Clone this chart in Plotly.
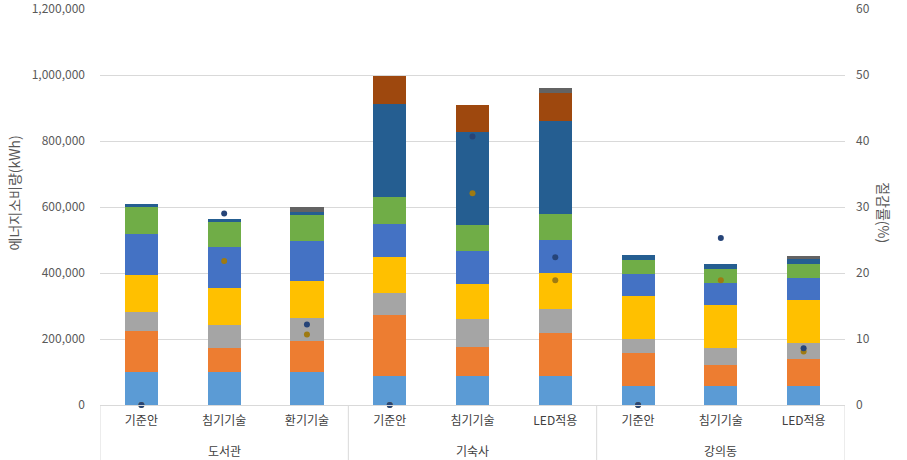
import plotly.graph_objects as go

groups = ["도서관", "기숙사", "강의동"]
cases = ["기준안", "침기기술", "환기기술", "기준안", "침기기술", "LED적용", "기준안", "침기기술", "LED적용"]
pos = list(range(len(cases)))

s1 = [100000, 100000, 100000, 89000, 89000, 89000, 58000, 58000, 58000]
s2 = [125000, 73000, 93000, 184000, 88000, 130000, 99000, 63000, 82000]
s3 = [57000, 69000, 71000, 67000, 84000, 72000, 42000, 52000, 47000]
s4 = [112000, 113000, 112000, 109000, 106000, 109000, 130000, 129000, 130000]
s5 = [125000, 123000, 121000, 100000, 100000, 100000, 68000, 67000, 67000]
s6 = [82000, 77000, 78000, 82000, 79000, 79000, 41000, 42000, 42000]
s7 = [8000, 8000, 9000, 282000, 282000, 282000, 18000, 15000, 15000]
s8 = [0, 0, 0, 83000, 82000, 83000, 0, 0, 0]
s9 = [0, 0, 16000, 0, 0, 17000, 0, 0, 12000]

rate_a = [0, 21.8, 10.7, 0, 32.1, 18.9, 0, 18.9, 8.1]
rate_b = [0, 29.0, 12.2, 0, 40.7, 22.4, 0, 25.3, 8.6]

series = [
    ("계열1", s1, "#5B9BD5"),
    ("계열2", s2, "#ED7D31"),
    ("계열3", s3, "#A5A5A5"),
    ("계열4", s4, "#FFC000"),
    ("계열5", s5, "#4472C4"),
    ("계열6", s6, "#70AD47"),
    ("계열7", s7, "#255E91"),
    ("계열8", s8, "#9E480E"),
    ("계열9", s9, "#636363"),
]

fig = go.Figure()
for name, vals, col in series:
    fig.add_trace(go.Bar(x=pos, y=vals, name=name, marker=dict(color=col, line=dict(width=0))))

fig.add_trace(go.Scatter(x=pos, y=rate_a, yaxis="y2", mode="markers", name="절감률1",
                         marker=dict(color="#9E7A12", size=6), cliponaxis=False))
fig.add_trace(go.Scatter(x=pos, y=rate_b, yaxis="y2", mode="markers", name="절감률2",
                         marker=dict(color="#264478", size=6), cliponaxis=False))

font = "Noto Sans CJK KR"
n_per_group = 3
shapes = []
for k in range(len(groups) + 1):
    xv = k * n_per_group - 0.5
    shapes.append(dict(type="line", xref="x", yref="paper", x0=xv, x1=xv, y0=0, y1=-0.139,
                       line=dict(color="#D9D9D9", width=1)))

annotations = [
    dict(text="에너지소비량(kWh)", xref="paper", yref="paper", x=-0.115, y=0.535,
         textangle=-90, showarrow=False, xanchor="center", yanchor="middle",
         font=dict(family=font, size=14, color="#595959")),
    dict(text="절감률(%)", xref="paper", yref="paper", x=1.052, y=0.485,
         textangle=90, showarrow=False, xanchor="center", yanchor="middle",
         font=dict(family=font, size=14, color="#595959")),
]
for i, g in enumerate(groups):
    annotations.append(dict(text=g, xref="x", yref="paper", x=i * n_per_group + 1, y=-0.114,
                            showarrow=False, xanchor="center", yanchor="middle",
                            font=dict(family=font, size=12, color="#404040")))

fig.update_layout(
    width=907, height=460,
    margin=dict(l=100, r=62, t=9, b=55, autoexpand=False),
    paper_bgcolor="white", plot_bgcolor="white",
    barmode="stack", bargap=0.6,
    showlegend=False,
    font=dict(family=font, size=12, color="#595959"),
    xaxis=dict(
        range=[-0.5, 8.5], tickvals=pos, ticktext=cases,
        showline=True, linecolor="#D9D9D9", linewidth=1,
        tickfont=dict(family=font, size=12, color="#404040"),
        ticks="", showgrid=False, zeroline=False, automargin=False,
        ticklabelstandoff=5,
    ),
    yaxis=dict(
        range=[0, 1200001], tickvals=[0, 200000, 400000, 600000, 800000, 1000000, 1200000],
        tickformat=",", ticklabeloverflow="allow",
        showgrid=True, gridcolor="#D9D9D9", gridwidth=1,
        zeroline=False, showline=False, automargin=False,
        tickfont=dict(family=font, size=12, color="#595959"),
        ticklabelstandoff=14,
    ),
    yaxis2=dict(
        range=[0, 60.0001], tickvals=[0, 10, 20, 30, 40, 50, 60], overlaying="y", side="right",
        ticklabeloverflow="allow",
        showgrid=False, zeroline=False, showline=False, automargin=False,
        tickfont=dict(family=font, size=12, color="#595959"),
        ticklabelstandoff=10,
    ),
    shapes=shapes,
    annotations=annotations,
)

fig.write_html("out.html", config={"displayModeBar": False},
               post_script="document.body.style.margin='0';document.body.style.overflow='hidden';")
